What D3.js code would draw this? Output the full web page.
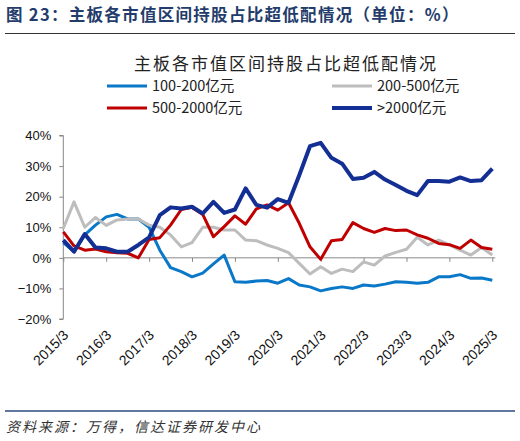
<!DOCTYPE html>
<html>
<head>
<meta charset="utf-8">
<script src="https://cdn.jsdelivr.net/npm/d3@7"></script>
<style>
  body { margin: 0; background: #fff; }
  svg { display: block; }
</style>
</head>
<body>
<svg id="chart" width="520" height="441"></svg>
<script>
// 季度数据 2015/3 - 2025/3
const years = ["2015/3", "2016/3", "2017/3", "2018/3", "2019/3", "2020/3",
  "2021/3", "2022/3", "2023/3", "2024/3", "2025/3"];
const seriesNames = ["100-200亿元", "200-500亿元", "500-2000亿元", ">2000亿元"];

const s100_200 = [5, 2, 7.5, 10.7, 13.4, 14.2, 12.7, 12.7, 10, 2.5, -3.2, -4.5, -6.2, -5, -2, 0.9,
  -7.8, -8, -7.6, -7.4, -8.3, -6.8, -8.9, -9.5, -10.8, -10, -9.5, -10, -8.9, -9.2, -8.6, -7.8,
  -8, -8.3, -8, -6.2, -6.2, -5.5, -6.7, -6.6, -7.3];
const s200_500 = [9.6, 18.3, 10, 13.2, 10.6, 12.4, 12.7, 12.7, 10.7, 10, 7.5, 3.6, 5, 10, 10, 9.1,
  9.1, 5.8, 5.6, 4.2, 3.1, 1.7, -1.8, -5.3, -2.9, -5.1, -3.7, -4.5, -1.3, -2.4, 0.6, 1.8,
  2.8, 6.7, 4.2, 5.8, 4.2, 2.5, 0.9, 3.4, 0.9];
const s500_2000 = [8.5, 3.9, 2.5, 2.9, 2, 1.7, 1.5, 0, 6, 6.6, 10.7, 15.8, 16.5, 14.2, 6.9, 10.2,
  13.7, 11, 16, 17.3, 15.6, 18, 11.3, 3.6, -0.5, 5.6, 6, 11.5, 9.6, 8.3, 9.6, 8.9,
  9.1, 7.5, 6.4, 4.7, 4.3, 3.1, 5.8, 3.4, 2.8];
const s2000 = [5.8, 2, 7.8, 3.4, 3.1, 2, 2, 4.2, 6.7, 14, 16.5, 16.1, 16.7, 14.5, 18.3, 14.7,
  15.8, 22.7, 17.3, 16.4, 19.2, 18, 27, 36.5, 37.6, 32.7, 30.8, 25.8, 26.2, 28.1, 25.6, 23.8,
  21.9, 20.5, 25.1, 25.1, 24.9, 26.3, 25.1, 25.4, 29.2];
const yTicks = [-20, -10, 0, 10, 20, 30, 40];

const colors = ["#0a78c8", "#bdbdbd", "#c00000", "#142f94"];
const widths = [3, 3, 3, 4];

const svg = d3.select("#chart");
const margin = { top: 135.5, right: 28, bottom: 122, left: 63.3 };
const width = 520, height = 441;

// 标题
svg.append("text")
  .attr("x", 6).attr("y", 21)
  .attr("font-family", "Noto Sans CJK SC")
  .attr("font-size", 16.5).attr("font-weight", "bold")
  .attr("letter-spacing", 1.3)
  .attr("fill", "#233c6b")
  .text("图 23：主板各市值区间持股占比超低配情况（单位：%）");

svg.append("line")
  .attr("x1", 5).attr("x2", 515).attr("y1", 33.5).attr("y2", 33.5)
  .attr("stroke", "#333").attr("stroke-width", 1);

svg.append("text")
  .attr("x", 286).attr("y", 70)
  .attr("text-anchor", "middle")
  .attr("font-family", "Noto Sans CJK SC")
  .attr("font-size", 17)
  .attr("fill", "#222")
  .attr("letter-spacing", 2)
  .text("主板各市值区间持股占比超低配情况");

// 图例
const legendPos = [[107, 86], [332, 86], [107, 108], [332, 108]];
seriesNames.forEach((name, i) => {
  const [lx, ly] = legendPos[i];
  svg.append("line")
    .attr("x1", lx).attr("x2", lx + 40).attr("y1", ly).attr("y2", ly)
    .attr("stroke", colors[i]).attr("stroke-width", i === 3 ? 4 : 3);
  svg.append("text")
    .attr("x", lx + 45).attr("y", ly + 5)
    .attr("font-family", "Noto Sans CJK SC")
    .attr("font-size", 14.5)
    .attr("fill", "#222")
    .text(name);
});

// 坐标
const x = d3.scaleLinear()
  .domain([0, s2000.length - 1])
  .range([margin.left, 492.3]);

const y = d3.scaleLinear()
  .domain([-20, 40])
  .range([height - margin.bottom, margin.top]);

// y 轴
const yAxis = svg.append("g")
  .attr("transform", `translate(${margin.left}, 0)`)
  .call(d3.axisLeft(y).tickValues(yTicks).tickSize(4).tickPadding(8)
    .tickFormat(d => (d < 0 ? "\u2212" + Math.abs(d) : d) + "%"));
yAxis.select(".domain").attr("stroke", "#888").attr("d", `M-4,${y(40)}H0V${y(-20)}H-4`);
yAxis.selectAll(".tick line").attr("stroke", "#888");
yAxis.selectAll(".tick text")
  .attr("font-family", "Liberation Sans, Arial")
  .attr("font-size", 13).attr("fill", "#111");

// x 轴 (零线)
const xAxis = svg.append("g")
  .attr("transform", `translate(0, ${y(0)})`)
  .call(d3.axisBottom(x)
    .tickValues(years.map((d, i) => i * 4))
    .tickSize(4)
    .tickFormat(() => ""));
xAxis.select(".domain").attr("stroke", "#888").attr("d", `M${x(0)},0H${x(40) + 3}`);
xAxis.selectAll(".tick line").attr("stroke", "#888");

// x 轴标签
svg.append("g").selectAll("text")
  .data(years)
  .join("text")
  .attr("transform", (d, i) => `translate(${x(i * 4) + 6}, 336) rotate(-45)`)
  .attr("text-anchor", "end")
  .attr("font-family", "Liberation Sans, Arial")
  .attr("font-size", 14)
  .attr("fill", "#111")
  .text(d => d);

// 线
const line = d3.line()
  .x((d, i) => x(i))
  .y(d => y(d));

[s100_200, s200_500, s500_2000, s2000].forEach((s, i) => {
  svg.append("path")
    .datum(s)
    .attr("fill", "none")
    .attr("stroke", colors[i])
    .attr("stroke-width", widths[i])
    .attr("stroke-linejoin", "round")
    .attr("d", line);
});

// 底部
svg.append("line")
  .attr("x1", 5).attr("x2", 515).attr("y1", 411).attr("y2", 411)
  .attr("stroke", "#2a4a7f").attr("stroke-width", 1.5);

svg.append("text")
  .attr("x", 6).attr("y", 432)
  .attr("font-family", "Noto Sans CJK SC")
  .attr("font-size", 14)
  .attr("font-style", "italic")
  .attr("letter-spacing", 2)
  .attr("fill", "#333")
  .text("资料来源：万得，信达证券研发中心");
</script>
</body>
</html>
